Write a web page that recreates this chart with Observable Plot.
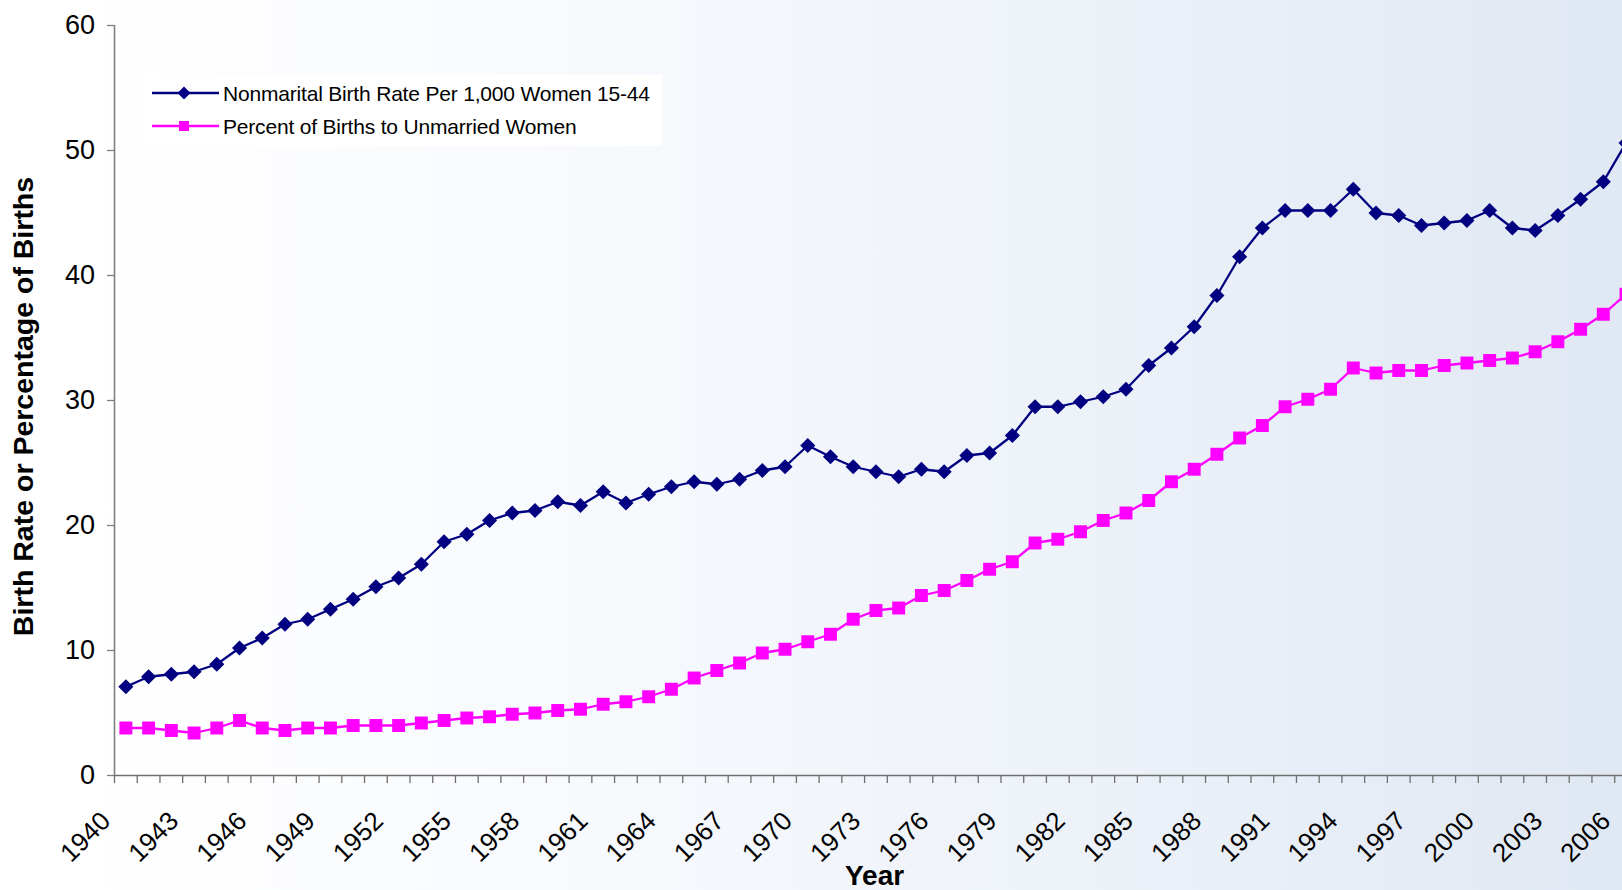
<!DOCTYPE html>
<html>
<head>
<meta charset="utf-8">
<script src="https://cdn.jsdelivr.net/npm/d3@7"></script>
<script src="https://cdn.jsdelivr.net/npm/@observablehq/plot@0.6"></script>
<style>
html, body { margin: 0; padding: 0; background: #ffffff; }
#wrap { position: relative; width: 1622px; height: 890px; overflow: hidden; font-family: "Liberation Sans", Arial, sans-serif; }
#bg { position: absolute; left: 80px; top: 0; right: 0; bottom: 0;
  background: linear-gradient(to right, #ffffff 0%, #f8fafd 30%, #edf2f9 65%, #e0e8f3 100%); }
#chart { position: absolute; left: 0; top: 0; }
#legend { position: absolute; left: 140px; top: 75px; width: 522px; height: 71px; background: #ffffff; }
</style>
</head>
<body>
<div id="wrap">
  <div id="bg"></div>
  <div id="chart"></div>
  <div id="legend"></div>
</div>
<script>
// ---------- data ----------
const years = [1940,1941,1942,1943,1944,1945,1946,1947,1948,1949,
  1950,1951,1952,1953,1954,1955,1956,1957,1958,1959,
  1960,1961,1962,1963,1964,1965,1966,1967,1968,1969,
  1970,1971,1972,1973,1974,1975,1976,1977,1978,1979,
  1980,1981,1982,1983,1984,1985,1986,1987,1988,1989,
  1990,1991,1992,1993,1994,1995,1996,1997,1998,1999,
  2000,2001,2002,2003,2004,2005,2006];

const birthRate = [7.1,7.9,8.1,8.3,8.9,10.2,11.0,12.1,12.5,13.3,
  14.1,15.1,15.8,16.9,18.7,19.3,20.4,21.0,21.2,21.9,
  21.6,22.7,21.8,22.5,23.1,23.5,23.3,23.7,24.4,24.7,
  26.4,25.5,24.7,24.3,23.9,24.5,24.3,25.6,25.8,27.2,
  29.5,29.5,29.9,30.3,30.9,32.8,34.2,35.9,38.4,41.5,
  43.8,45.2,45.2,45.2,46.9,45.0,44.8,44.0,44.2,44.4,
  45.2,43.8,43.6,44.8,46.1,47.5,50.6];

const pctUnmarried = [3.8,3.8,3.6,3.4,3.8,4.4,3.8,3.6,3.8,3.8,
  4.0,4.0,4.0,4.2,4.4,4.6,4.7,4.9,5.0,5.2,
  5.3,5.7,5.9,6.3,6.9,7.8,8.4,9.0,9.8,10.1,
  10.7,11.3,12.5,13.2,13.4,14.4,14.8,15.6,16.5,17.1,
  18.6,18.9,19.5,20.4,21.0,22.0,23.5,24.5,25.7,27.0,
  28.0,29.5,30.1,30.9,32.6,32.2,32.4,32.4,32.8,33.0,
  33.2,33.4,33.9,34.7,35.7,36.9,38.5];

const seriesNames = ["Nonmarital Birth Rate Per 1,000 Women 15-44", "Percent of Births to Unmarried Women"];
const seriesColors = ["#000080", "#ff00ff"];
const seriesSymbols = ["diamond2", "square"];

const yTicks = [0, 10, 20, 30, 40, 50, 60];
const xLabelYears = [1940,1943,1946,1949,1952,1955,1958,1961,1964,1967,1970,1973,1976,1979,1982,1985,1988,1991,1994,1997,2000,2003,2006];
const xTitle = "Year";
const yTitle = "Birth Rate or Percentage of Births";

// ---------- build ----------
const rateRows = years.map((yr, i) => ({year: yr, value: birthRate[i]}));
const pctRows = years.map((yr, i) => ({year: yr, value: pctUnmarried[i]}));
const boundaries = years.map(yr => yr - 0.5).concat([years[years.length - 1] + 0.5]);

const x0 = 114, band = 22.73;
const chart = Plot.plot({
  width: 1622,
  height: 890,
  marginTop: 25,
  marginBottom: 115,
  marginLeft: x0,
  marginRight: 0,
  style: {background: "transparent", fontFamily: "'Liberation Sans', Arial, sans-serif", overflow: "hidden"},
  x: {type: "linear", domain: [years[0] - 0.5, years[years.length - 1] + 0.5], range: [x0, x0 + years.length * band]},
  y: {domain: [0, 60]},
  marks: [
    Plot.axisY({ticks: yTicks, tickSize: 7, tickPadding: 12.5, fontSize: 27, label: null,
      stroke: "#7f7f7f", strokeWidth: 1.3, color: "#000000"}),
    Plot.axisX({ticks: boundaries, tickSize: 8, tickFormat: () => "", label: null,
      stroke: "#6f6f6f", strokeWidth: 1.3}),
    Plot.ruleY([0], {stroke: "#6f6f6f", strokeWidth: 1.6}),
    Plot.ruleX([years[0] - 0.5], {stroke: "#7f7f7f", strokeWidth: 1.6}),
    Plot.line(pctRows, {x: "year", y: "value", stroke: seriesColors[1], strokeWidth: 2.3}),
    Plot.dot(pctRows, {x: "year", y: "value", symbol: seriesSymbols[1], r: 7.3, fill: seriesColors[1], stroke: "none"}),
    Plot.line(rateRows, {x: "year", y: "value", stroke: seriesColors[0], strokeWidth: 2.3}),
    Plot.dot(rateRows, {x: "year", y: "value", symbol: seriesSymbols[0], r: 6.8, fill: seriesColors[0], stroke: "none"}),
    Plot.text(xLabelYears, {x: d => d, text: d => String(d), frameAnchor: "bottom", rotate: -45,
      textAnchor: "end", lineAnchor: "bottom", dx: -14, dy: 47, fontSize: 26, fill: "#000000"}),
    Plot.text([xTitle], {text: d => d, frameAnchor: "bottom", textAnchor: "middle", lineAnchor: "bottom", dx: 6, dy: 109,
      fontSize: 28, fontWeight: "bold", fill: "#000000"}),
    Plot.text([yTitle], {text: d => d, frameAnchor: "left", rotate: -90, textAnchor: "middle", lineAnchor: "bottom",
      dx: 32 - x0, dy: 6, fontSize: 28.5, fontWeight: "bold", fill: "#000000"})
  ]
});
document.getElementById("chart").appendChild(chart);

// ---------- legend ----------
const leg = d3.select("#legend").append("svg").attr("width", 522).attr("height", 71);
seriesNames.forEach((name, i) => {
  const cy = 18 + i * 33;
  const g = leg.append("g");
  g.append("line").attr("x1", 12).attr("x2", 79).attr("y1", cy).attr("y2", cy)
    .attr("stroke", seriesColors[i]).attr("stroke-width", 2.3);
  if (i === 0) {
    g.append("path").attr("d", `M44,${cy-6.5}L50.5,${cy}L44,${cy+6.5}L37.5,${cy}Z`).attr("fill", seriesColors[i]);
  } else {
    g.append("rect").attr("x", 39).attr("y", cy - 5).attr("width", 10).attr("height", 10).attr("fill", seriesColors[i]);
  }
  g.append("text").attr("x", 83).attr("y", cy).attr("dy", "0.36em")
    .attr("font-family", "'Liberation Sans', Arial, sans-serif").attr("font-size", 21)
    .attr("letter-spacing", "-0.19px")
    .attr("fill", "#000").text(name);
});
</script>
</body>
</html>
